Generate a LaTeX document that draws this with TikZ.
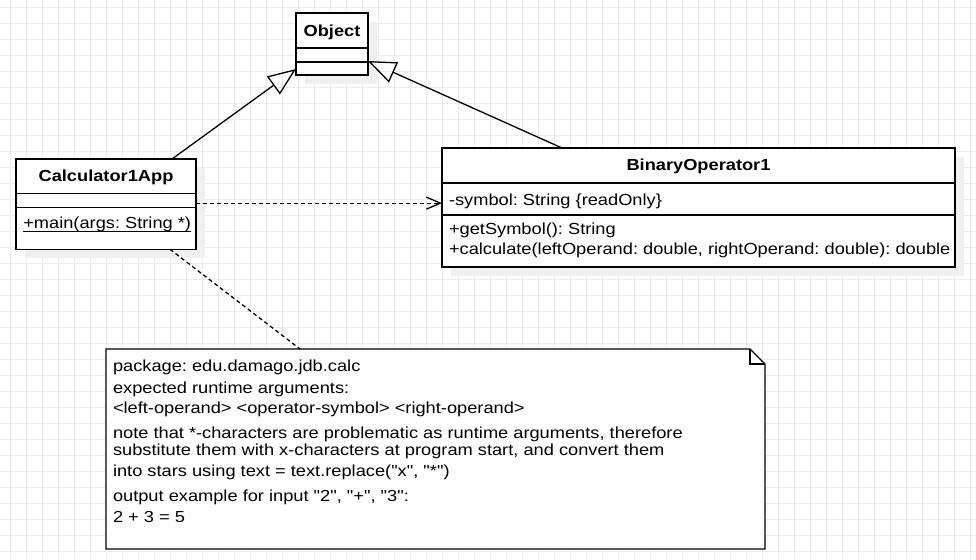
\documentclass[tikz,border=0pt]{standalone}
\usepackage{fontspec}
\setmainfont{Liberation Sans}[FakeStretch=1.14, Ligatures=TeXOff]
\usetikzlibrary{arrows.meta,calc}
\frenchspacing
\tikzset{
  gridline/.style={draw=black!8, line width=1pt},
  umlbox/.style={draw=black, line width=1.3pt, fill=white, rectangle, inner sep=0pt, outer sep=0pt},
  divider/.style={line width=1.3pt},
  shadowbox/.style={fill=black!6, draw=none},
  lbl/.style={inner sep=0pt, outer sep=0pt, anchor=base west, font=\fontsize{16}{19}\selectfont},
  ttl/.style={inner sep=0pt, outer sep=0pt, anchor=base, font=\fontsize{16}{19}\selectfont\bfseries},
  inherit/.style={line width=1.3pt, -{Triangle[open, length=28pt, width=22pt, line width=1.3pt]}},
  dep/.style={line width=1.3pt, dash pattern=on 4pt off 3pt, -{Straight Barb[length=14pt, width=12pt, line width=1.3pt]}},
  noteline/.style={line width=1.3pt, dash pattern=on 4pt off 3pt},
  noteshape/.style={draw=black, line width=1.3pt, fill=white, line join=miter},
}
\begin{document}
\frenchspacing
\begin{tikzpicture}[x=1pt,y=-1pt]
\useasboundingbox (0,0) rectangle (976,559);
\fill[white] (0,0) rectangle (976,559);
% grid
\foreach \i in {0,...,60} \draw[gridline] ({10.3+16*\i},0) -- ({10.3+16*\i},559);
\foreach \j in {0,...,34} \draw[gridline] (0,{7.3+16*\j}) -- (976,{7.3+16*\j});

% shadows
\fill[shadowbox] (305,22) rectangle (377,84);
\fill[shadowbox] (25,168) rectangle (205,258.3);
\fill[shadowbox] (451,157) rectangle (964,276);

% Object
\node[umlbox, minimum width=72pt, minimum height=62pt] (obj) at (332,44) {};
\draw[divider] (296,48) -- (368,48);
\draw[divider] (296,62) -- (368,62);
\node[ttl] (objt) at (332,36.7) {Object};

% Calculator1App
\node[umlbox, minimum width=180pt, minimum height=90.3pt] (calc) at (106,204.15) {};
\draw[divider] (16,193.3) -- (196,193.3);
\draw[divider] (16,207.3) -- (196,207.3);
\node[ttl] (calct) at (106,181.7) {Calculator1App};
\node[lbl] (calcm) at (23.3,228.3) {+main(args: String *)};
\draw[line width=1pt] ($(calcm.base west)+(0,3.4)$) -- ($(calcm.base east)+(0,3.4)$);

% BinaryOperator1
\node[umlbox, minimum width=513pt, minimum height=119pt] (binop) at (698.5,207.5) {};
\draw[divider] (442,183) -- (955,183);
\draw[divider] (442,215) -- (955,215);
\node[ttl] (binopt) at (698.5,170) {BinaryOperator1};
\node[lbl] (binopa) at (449,205) {-symbol: String \{readOnly\}};
\node[lbl] (binopm1) at (449,234) {+getSymbol(): String};
\node[lbl] (binopm2) at (449,254) {+calculate(leftOperand: double, rightOperand: double): double};

% Note
\node[inner sep=0pt, outer sep=0pt, minimum width=659pt, minimum height=200pt] (note) at (435.5,449) {};
\draw[noteshape] (note.north west) -- ($(note.north east)+(-15,0)$) -- ($(note.north east)+(0,15)$) -- (note.south east) -- (note.south west) -- cycle;
\draw[line width=1.3pt] ($(note.north east)+(-15,0)$) -- ($(note.north east)+(-15,15)$) -- ($(note.north east)+(0,15)$);
\node[lbl] (n1) at (113,371.5) {package: edu.damago.jdb.calc};
\node[lbl] (n2) at (113,393) {expected runtime arguments:};
\node[lbl] (n3) at (113,413.5) {<left-operand> <operator-symbol> <right-operand>};
\node[lbl] (n4) at (113,438.3) {note that *-characters are problematic as runtime arguments, therefore};
\node[lbl] (n5) at (113,455.5) {substitute them with x-characters at program start, and convert them};
\node[lbl] (n6) at (113,476.7) {into stars using text = text.replace("x", "*")};
\node[lbl] (n7) at (113,501.7) {output example for input "2", "+", "3":};
\node[lbl] (n8) at (113,522.7) {2 + 3 = 5};

% connectors
\draw[inherit] ($(calc.north west)+(156,0)$) -- ($(obj.south west)+(0,-6)$);
\draw[inherit] ($(binop.north west)+(120,0)$) -- ($(obj.south east)+(0,-14)$);
\coordinate (d1) at ($(calc.east)+(0,-1)$);
\draw[dep] (d1) -- (d1 -| binop.west);
\draw[noteline] ($(calc.south west)+(154,0)$) -- ($(note.north west)+(194,0)$);
\end{tikzpicture}
\end{document}
